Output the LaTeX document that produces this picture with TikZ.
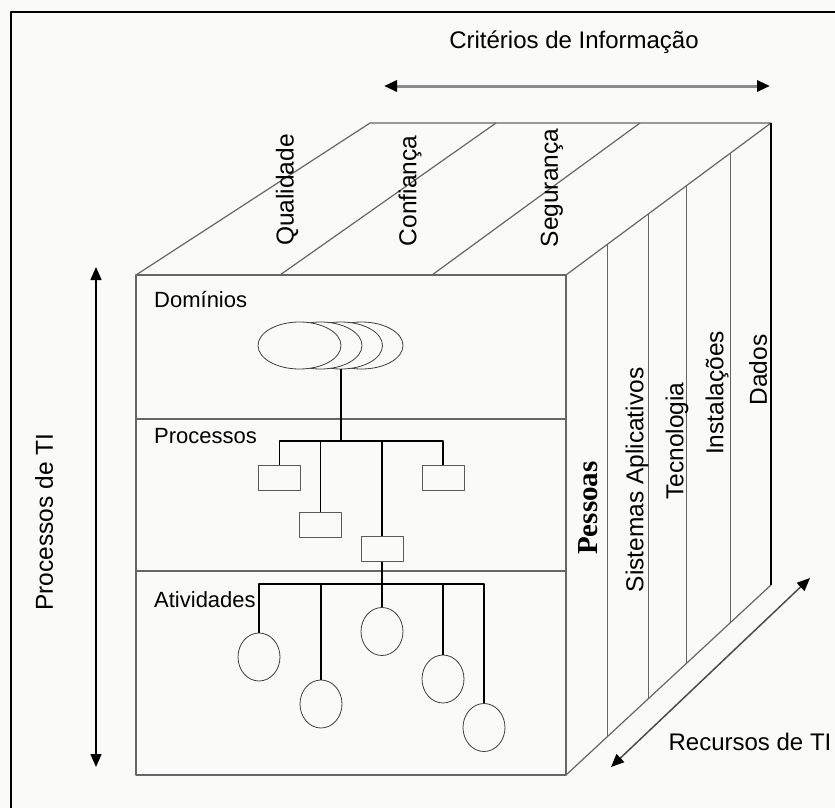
\documentclass[tikz,border=0pt]{standalone}
\usepackage{fontspec}
\setmainfont{Liberation Sans}
\newfontfamily\serifbold{Liberation Serif}
\usetikzlibrary{arrows.meta,shapes,calc}
\definecolor{bgcol}{RGB}{250,250,248}

\begin{document}
\begin{tikzpicture}[x=1pt,y=-1pt,line join=round,
    edge/.style={draw=black!60,line width=1.2pt},
    tree/.style={draw=black,line width=1.1pt},
    dom/.style={ellipse,draw=black!75,thick,fill=bgcol,minimum width=83pt,minimum height=47pt,inner sep=0pt},
    proc/.style={rectangle,draw=black!65,thick,fill=bgcol,minimum width=42pt,minimum height=25pt,inner sep=0pt},
    act/.style={ellipse,draw=black!75,thick,fill=bgcol,minimum width=42pt,minimum height=48pt,inner sep=0pt},
    lab/.style={font=\fontsize{22}{26}\selectfont,anchor=west,inner sep=0pt},
    side/.style={font=\fontsize{24.5}{28}\selectfont,rotate=90,inner sep=0pt},
    big/.style={font=\fontsize{24}{28}\selectfont,inner sep=0pt},
    dbl/.style={{Triangle[length=13pt,width=11pt,color=black]}-{Triangle[length=13pt,width=11pt,color=black]}}]
  \fill[bgcol] (0,0) rectangle (835,808);
  \useasboundingbox (0,0) rectangle (835,808);
  \draw[line width=2pt] (11,808) |- (835,12);

  % corners of the cube
  \coordinate (ftl) at (136,275);
  \coordinate (ftr) at (566,275);
  \coordinate (fbl) at (136,775);
  \coordinate (fbr) at (566,775);
  \coordinate (btl) at (370,123);
  \coordinate (btr) at (771,123);
  \coordinate (bbr) at (771,585);

  % front face
  \draw[edge] (ftl) rectangle (fbr);
  \draw[edge] (136,419) -- (566,419);
  \draw[edge] (136,571) -- (566,571);
  % top face
  \draw[edge] (ftl) -- (btl) -- (btr) -- (ftr);
  \draw[edge] (280,275) -- (496,123);
  \draw[edge] (432,275) -- (640,123);
  % right face
  \draw[edge] (fbr) -- (bbr);
  \draw[black,line width=1.4pt] (btr) -- (bbr);
  \foreach \t in {0.2,0.4,0.59,0.8}
    \draw[edge,line width=1pt] ($(ftr)!\t!(btr)$) -- ($(fbr)!\t!(bbr)$);

  % labels
  \node[big] (crit) at (574,42) {Critérios de Informação};
  \node[side] (qual) at (287,190) {Qualidade};
  \node[side] (conf) at (410,191) {Confiança};
  \node[side] (seg) at (552,188) {Segurança};
  \node[lab] (ldom) at (154,300) {Domínios};
  \node[lab] (lproc) at (154,436) {Processos};
  \node[lab] (lat) at (154,600) {Atividades};
  \node[side,font=\serifbold\bfseries\fontsize{29}{32}\selectfont] (pess) at (588,508) {Pessoas};
  \node[side] (sist) at (637,480) {Sistemas Aplicativos};
  \node[side] (tec) at (677,441) {Tecnologia};
  \node[side] (inst) at (717,393) {Instalações};
  \node[side] (dad) at (758,370) {Dados};
  \node[side] (ptI) at (44,522) {Processos de TI};
  \node[big] (rti) at (750,742) {Recursos de TI};

  % arrows
  \coordinate (ca) at (384,86);
  \coordinate (cb) at (770,86);
  \draw[dbl,draw=black!45,line width=3pt] (ca) -- (cb);
  \coordinate (pa) at (96,267);
  \coordinate (pb) at (96,767);
  \draw[dbl,line width=1.5pt] (pa) -- (pb);
  \coordinate (ra) at (611,767);
  \coordinate (rb) at (810,578);
  \draw[dbl,draw=black!70,line width=1.5pt] (ra) -- (rb);

  % dominios
  \node[dom] (dom4) at (361.5,345.5) {};
  \node[dom] (dom3) at (341,345.5) {};
  \node[dom] (dom2) at (320.5,345.5) {};
  \node[dom] (dom1) at (299.5,345.5) {};

  % processos
  \node[proc] (proc1) at (279.5,477.5) {};
  \node[proc] (proc2) at (320.5,525) {};
  \node[proc] (proc3) at (382,549) {};
  \node[proc] (proc4) at (443,477.5) {};
  \coordinate (pbus) at (341,441);
  \draw[tree] (dom3.south) -- (pbus);
  \draw[tree] (proc1.north) |- (pbus) -| (proc4.north);
  \draw[tree] (proc2.north) -- (proc2.north |- pbus);
  \draw[tree] (proc3.north) -- (proc3.north |- pbus);

  % atividades
  \node[act] (at1) at (259,657) {};
  \node[act] (at2) at (321,704) {};
  \node[act] (at3) at (382,631.5) {};
  \node[act] (at4) at (443,679) {};
  \node[act] (at5) at (484,727.5) {};
  \coordinate (abus) at (382,584);
  \draw[tree] (proc3.south) -- (at3.north);
  \draw[tree] (at1.north) |- (abus) -| (at5.north);
  \draw[tree] (at2.north) -- (at2.north |- abus);
  \draw[tree] (at4.north) -- (at4.north |- abus);
\end{tikzpicture}
\end{document}
